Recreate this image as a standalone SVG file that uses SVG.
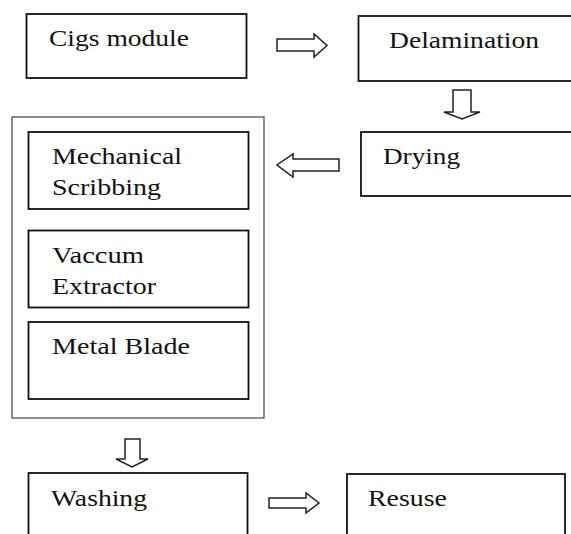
<svg xmlns="http://www.w3.org/2000/svg" width="571" height="534" viewBox="0 0 571 534">
<style>
.box{fill:#fff;stroke:#111;stroke-width:1.8}
.outer{fill:none;stroke:#444;stroke-width:1.2}
.arrow{fill:#fff;stroke:#222;stroke-width:1.5;stroke-linejoin:miter}
text{font-family:"Times New Roman","Liberation Serif",Tinos,Times,"DejaVu Serif","Noto Serif",serif;font-size:23px;fill:#111}
</style>
<rect width="571" height="534" fill="#fff"/>
<g id="process">
<rect class="outer" x="12" y="117" width="252" height="301"/>
</g>
<g id="cigs">
<rect class="box" x="26.5" y="14" width="220" height="64"/>
<text x="49" y="46" textLength="140" lengthAdjust="spacingAndGlyphs">Cigs module</text>
</g>
<g id="delamination">
<rect class="box" x="358.5" y="16" width="230" height="65"/>
<text x="389" y="48" textLength="150" lengthAdjust="spacingAndGlyphs">Delamination</text>
</g>
<g id="drying">
<rect class="box" x="361" y="132" width="230" height="64"/>
<text x="383" y="164" textLength="77" lengthAdjust="spacingAndGlyphs">Drying</text>
</g>
<g id="mechanical">
<rect class="box" x="28.5" y="132" width="220" height="77"/>
<text x="52" y="164" textLength="130" lengthAdjust="spacingAndGlyphs">Mechanical</text>
<text x="52" y="195" textLength="109" lengthAdjust="spacingAndGlyphs">Scribbing</text>
</g>
<g id="vaccum">
<rect class="box" x="28.5" y="230.5" width="220" height="77"/>
<text x="52" y="263" textLength="92" lengthAdjust="spacingAndGlyphs">Vaccum</text>
<text x="52" y="294" textLength="104" lengthAdjust="spacingAndGlyphs">Extractor</text>
</g>
<g id="metal">
<rect class="box" x="28.5" y="322" width="220" height="77"/>
<text x="52" y="354" textLength="138" lengthAdjust="spacingAndGlyphs">Metal Blade</text>
</g>
<g id="washing">
<rect class="box" x="28.5" y="473" width="219" height="80"/>
<text x="51" y="506" textLength="96" lengthAdjust="spacingAndGlyphs">Washing</text>
</g>
<g id="resuse">
<rect class="box" x="347" y="474" width="218" height="80"/>
<text x="368" y="506" textLength="79" lengthAdjust="spacingAndGlyphs">Resuse</text>
</g>
<g id="connectors">
<polygon class="arrow" points="277,39 314,39 314,34 327,45.5 314,57 314,51 277,51"/>
<polygon class="arrow" points="453,90 471,90 471,112 480,112 462,119 444,112 453,112"/>
<polygon class="arrow" points="339,159 293,159 293,154 277,165 293,177 293,171 339,171"/>
<polygon class="arrow" points="125,439 140,439 140,459 148,459 132,467 116,459 125,459"/>
<polygon class="arrow" points="269,498 306,498 306,493 319,503 306,513 306,508 269,508"/>
</g>
</svg>
